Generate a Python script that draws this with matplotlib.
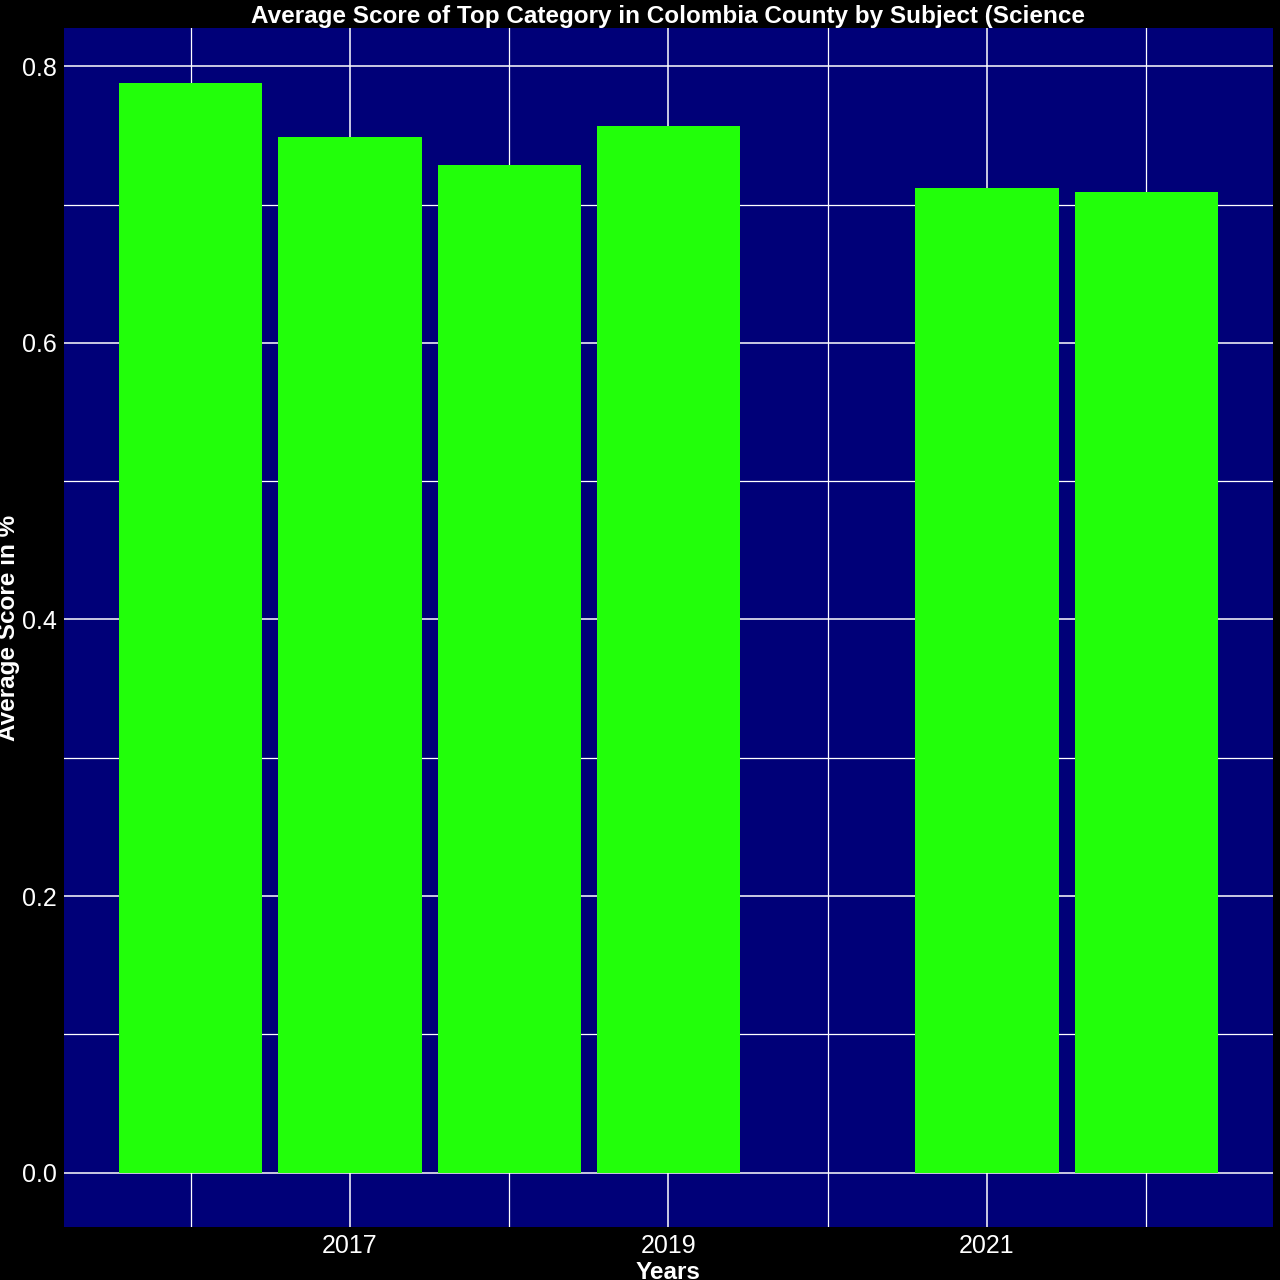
import matplotlib
matplotlib.use("Agg")
import matplotlib.pyplot as plt
from matplotlib.ticker import FixedLocator

years = [2016, 2017, 2018, 2019, 2021, 2022]
scores = [0.788, 0.749, 0.729, 0.757, 0.712, 0.709]
x_major = [2017, 2019, 2021]
x_minor = [2016, 2018, 2020, 2022]
y_major = [0.0, 0.2, 0.4, 0.6, 0.8]
y_minor = [0.1, 0.3, 0.5, 0.7]

plt.rcParams['font.family'] = ['Liberation Sans', 'DejaVu Sans']

fig = plt.figure(figsize=(12.8, 12.8), dpi=100, facecolor='black')
ax = fig.add_axes([0.05, 0.0414, 0.9445, 0.9366])
ax.set_facecolor('#000078')

ax.bar(years, scores, width=0.9, color='#22ff0a', zorder=3)

ax.set_xlim(2015.205, 2022.795)
ax.set_ylim(-0.0394, 0.8277)

ax.xaxis.set_major_locator(FixedLocator(x_major))
ax.xaxis.set_minor_locator(FixedLocator(x_minor))
ax.yaxis.set_major_locator(FixedLocator(y_major))
ax.yaxis.set_minor_locator(FixedLocator(y_minor))
ax.set_xticklabels([str(v) for v in x_major])
ax.set_yticklabels([f"{v:.1f}" for v in y_major])

ax.grid(which='major', color='white', linewidth=1.1, zorder=1)
ax.grid(which='minor', color='white', linewidth=0.9, zorder=1)
ax.set_axisbelow(True)

ax.tick_params(which='both', length=0, colors='white', labelsize=18, pad=5)
for s in ax.spines.values():
    s.set_visible(False)

ax.set_xlabel('Years', color='white', fontsize=17.5, fontweight='bold', labelpad=2)
ax.set_ylabel('Average Score in %', color='white', fontsize=17.5, fontweight='bold')
ax.yaxis.set_label_coords(-0.036, 0.5)
ax.set_title('Average Score of Top Category in Colombia County by Subject (Science',
             color='white', fontsize=17.5, fontweight='bold', pad=3)

fig.savefig('out.png', dpi=100, facecolor='black')
